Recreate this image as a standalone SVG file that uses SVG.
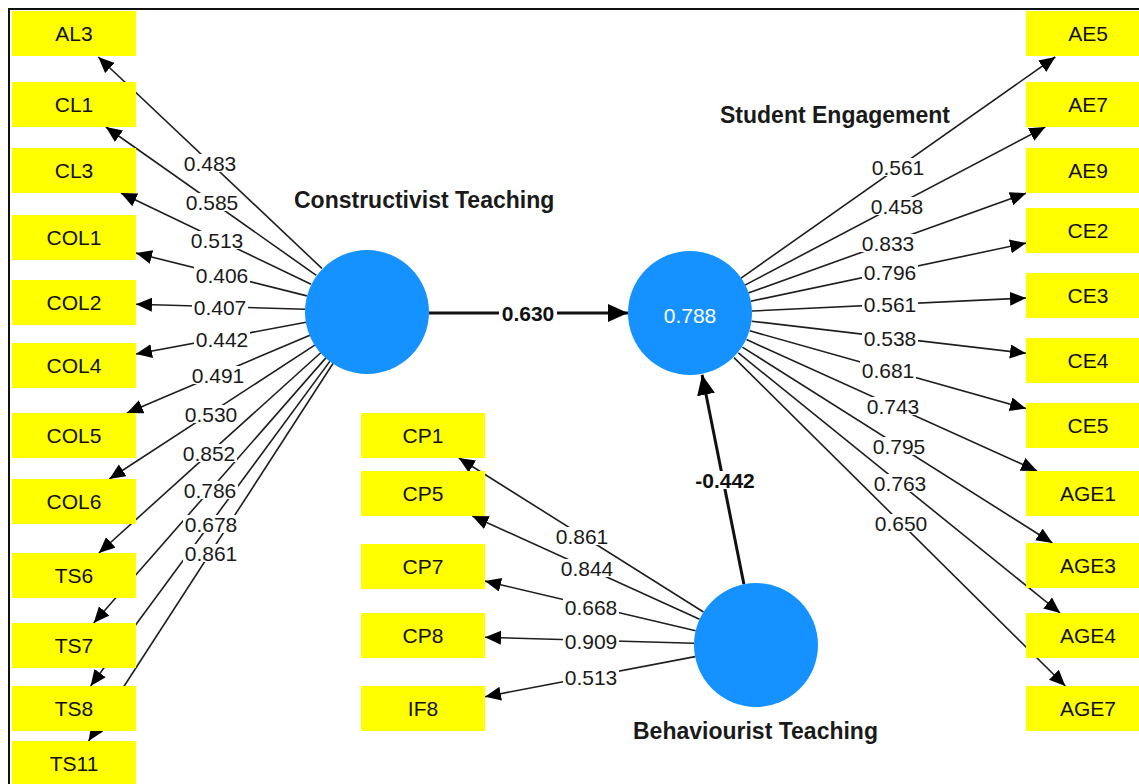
<svg xmlns="http://www.w3.org/2000/svg" width="1139" height="784" viewBox="0 0 1139 784">
<style>
.bg{fill:#ffffff}
.frame{stroke:#111;stroke-width:2;fill:none}
.ind{fill:#ffff00}
.it{font-family:"Liberation Sans",Arial,sans-serif;font-size:21px;fill:#111;text-anchor:middle}
.lv{fill:#1592ff}
.lt{font-family:"Liberation Sans",Arial,sans-serif;font-size:23px;font-weight:bold;fill:#1a1a1a}
.r2{font-family:"Liberation Sans",Arial,sans-serif;font-size:21px;fill:#ffffff;text-anchor:middle}
.ln{stroke:#1e1e1e;stroke-width:1.6;fill:none;marker-end:url(#ah)}
.pl{stroke:#111;stroke-width:3;fill:none;marker-end:url(#ahb)}
.lb{fill:#ffffff}
.nt{font-family:"Liberation Sans",Arial,sans-serif;font-size:21px;fill:#1a1a1a;text-anchor:middle}
.bt{font-family:"Liberation Sans",Arial,sans-serif;font-size:21px;font-weight:bold;fill:#111;text-anchor:middle}
</style>
<defs>
<marker id="ah" markerUnits="userSpaceOnUse" markerWidth="18" markerHeight="16" refX="16" refY="7" orient="auto">
<path d="M0,0 L16,7 L0,14 z" fill="#000"/>
</marker>
<marker id="ahb" markerUnits="userSpaceOnUse" markerWidth="22" markerHeight="20" refX="20" refY="9" orient="auto">
<path d="M0,0 L20,9 L0,18 z" fill="#000"/>
</marker>
</defs>
<rect class="bg" x="0" y="0" width="1139" height="784"/>
<path class="frame" d="M9,784 L9,9 L1139,9"/>

<g id="connectors">
<line class="ln" x1="321.9" y1="268.4" x2="98.3" y2="57"/>
<line class="ln" x1="316.3" y1="275.3" x2="105.9" y2="127"/>
<line class="ln" x1="311.1" y1="284.2" x2="120.9" y2="193"/>
<line class="ln" x1="306.9" y1="295.9" x2="136" y2="253.1"/>
<line class="ln" x1="305" y1="309.2" x2="136" y2="304.3"/>
<line class="ln" x1="306" y1="322.3" x2="136" y2="354"/>
<line class="ln" x1="309.9" y1="335.2" x2="126.9" y2="413"/>
<line class="ln" x1="315.1" y1="344.9" x2="109.3" y2="479"/>
<line class="ln" x1="321" y1="352.5" x2="98.9" y2="553"/>
<line class="ln" x1="326.1" y1="357.6" x2="93.7" y2="623"/>
<line class="ln" x1="330.2" y1="360.9" x2="90.6" y2="686"/>
<line class="ln" x1="333.3" y1="363" x2="88.6" y2="741"/>

<line class="ln" x1="740.7" y1="278.3" x2="1055.3" y2="57"/>
<line class="ln" x1="744.9" y1="285.1" x2="1045.3" y2="127"/>
<line class="ln" x1="748.3" y1="293" x2="1026" y2="193.3"/>
<line class="ln" x1="750.7" y1="301.2" x2="1026" y2="243.1"/>
<line class="ln" x1="751.9" y1="311" x2="1026" y2="298"/>
<line class="ln" x1="751.6" y1="321.2" x2="1026" y2="353.3"/>
<line class="ln" x1="749.7" y1="330.8" x2="1026" y2="408.6"/>
<line class="ln" x1="746.5" y1="339.6" x2="1037.1" y2="471"/>
<line class="ln" x1="742.4" y1="347.1" x2="1052.4" y2="543"/>
<line class="ln" x1="738.3" y1="352.9" x2="1060.1" y2="613"/>
<line class="ln" x1="734" y1="357.6" x2="1065.3" y2="686"/>

<line class="ln" x1="703.5" y1="612" x2="458.8" y2="458"/>
<line class="ln" x1="699.6" y1="619.3" x2="472.3" y2="516"/>
<line class="ln" x1="695.6" y1="630.8" x2="485" y2="581.1"/>
<line class="ln" x1="694" y1="643.2" x2="485" y2="637.3"/>
<line class="ln" x1="695.1" y1="656.6" x2="485" y2="696.7"/>

<line class="pl" x1="429" y1="313" x2="628" y2="313"/>
<line class="pl" x1="743.9" y1="584.2" x2="702.1" y2="374.8"/>

<g id="loading-labels">
<rect class="lb" x="182" y="154" width="56" height="18"/><text class="nt" x="210" y="170.5">0.483</text>
<rect class="lb" x="184" y="193" width="56" height="18"/><text class="nt" x="212" y="209.5">0.585</text>
<rect class="lb" x="189" y="231" width="56" height="18"/><text class="nt" x="217" y="247.5">0.513</text>
<rect class="lb" x="194" y="266" width="56" height="18"/><text class="nt" x="222" y="282.5">0.406</text>
<rect class="lb" x="192" y="298" width="56" height="18"/><text class="nt" x="220" y="314.5">0.407</text>
<rect class="lb" x="194" y="330" width="56" height="18"/><text class="nt" x="222" y="346.5">0.442</text>
<rect class="lb" x="190" y="366" width="56" height="18"/><text class="nt" x="218" y="382.5">0.491</text>
<rect class="lb" x="183" y="405" width="56" height="18"/><text class="nt" x="211" y="421.5">0.530</text>
<rect class="lb" x="181" y="444" width="56" height="18"/><text class="nt" x="209" y="460.5">0.852</text>
<rect class="lb" x="182" y="481" width="56" height="18"/><text class="nt" x="210" y="497.5">0.786</text>
<rect class="lb" x="183" y="515" width="56" height="18"/><text class="nt" x="211" y="531.5">0.678</text>
<rect class="lb" x="183" y="544" width="56" height="18"/><text class="nt" x="211" y="560.5">0.861</text>

<rect class="lb" x="870" y="158" width="56" height="18"/><text class="nt" x="898" y="174.5">0.561</text>
<rect class="lb" x="869" y="197" width="56" height="18"/><text class="nt" x="897" y="213.5">0.458</text>
<rect class="lb" x="860" y="234" width="56" height="18"/><text class="nt" x="888" y="250.5">0.833</text>
<rect class="lb" x="862" y="263" width="56" height="18"/><text class="nt" x="890" y="279.5">0.796</text>
<rect class="lb" x="862" y="295" width="56" height="18"/><text class="nt" x="890" y="311.5">0.561</text>
<rect class="lb" x="862" y="329" width="56" height="18"/><text class="nt" x="890" y="345.5">0.538</text>
<rect class="lb" x="860" y="361" width="56" height="18"/><text class="nt" x="888" y="377.5">0.681</text>
<rect class="lb" x="865" y="397" width="56" height="18"/><text class="nt" x="893" y="413.5">0.743</text>
<rect class="lb" x="871" y="437" width="56" height="18"/><text class="nt" x="899" y="453.5">0.795</text>
<rect class="lb" x="872" y="474" width="56" height="18"/><text class="nt" x="900" y="490.5">0.763</text>
<rect class="lb" x="873" y="514" width="56" height="18"/><text class="nt" x="901" y="530.5">0.650</text>

<rect class="lb" x="554" y="527" width="56" height="18"/><text class="nt" x="582" y="543.5">0.861</text>
<rect class="lb" x="559" y="559" width="56" height="18"/><text class="nt" x="587" y="575.5">0.844</text>
<rect class="lb" x="563" y="598" width="56" height="18"/><text class="nt" x="591" y="614.5">0.668</text>
<rect class="lb" x="563" y="632" width="56" height="18"/><text class="nt" x="591" y="648.5">0.909</text>
<rect class="lb" x="563" y="668" width="56" height="18"/><text class="nt" x="591" y="684.5">0.513</text>

<rect class="lb" x="499" y="304" width="58" height="18"/><text class="bt" x="528" y="320.5">0.630</text>
<rect class="lb" x="693" y="471" width="64" height="18"/><text class="bt" x="725" y="487.5">-0.442</text>
</g>
</g>

<g id="AL3"><rect class="ind" x="12" y="11" width="124" height="45"/><text class="it" x="74" y="41">AL3</text></g>
<g id="CL1"><rect class="ind" x="12" y="82" width="124" height="45"/><text class="it" x="74" y="112">CL1</text></g>
<g id="CL3"><rect class="ind" x="12" y="148" width="124" height="45"/><text class="it" x="74" y="178">CL3</text></g>
<g id="COL1"><rect class="ind" x="12" y="215" width="124" height="45"/><text class="it" x="74" y="245">COL1</text></g>
<g id="COL2"><rect class="ind" x="12" y="280" width="124" height="45"/><text class="it" x="74" y="310">COL2</text></g>
<g id="COL4"><rect class="ind" x="12" y="343" width="124" height="45"/><text class="it" x="74" y="373">COL4</text></g>
<g id="COL5"><rect class="ind" x="12" y="413" width="124" height="45"/><text class="it" x="74" y="443">COL5</text></g>
<g id="COL6"><rect class="ind" x="12" y="479" width="124" height="45"/><text class="it" x="74" y="509">COL6</text></g>
<g id="TS6"><rect class="ind" x="12" y="553" width="124" height="45"/><text class="it" x="74" y="583">TS6</text></g>
<g id="TS7"><rect class="ind" x="12" y="623" width="124" height="45"/><text class="it" x="74" y="653">TS7</text></g>
<g id="TS8"><rect class="ind" x="12" y="686" width="124" height="45"/><text class="it" x="74" y="716">TS8</text></g>
<g id="TS11"><rect class="ind" x="12" y="741" width="124" height="45"/><text class="it" x="74" y="771">TS11</text></g>

<g id="AE5"><rect class="ind" x="1026" y="11" width="124" height="45"/><text class="it" x="1088" y="41">AE5</text></g>
<g id="AE7"><rect class="ind" x="1026" y="82" width="124" height="45"/><text class="it" x="1088" y="112">AE7</text></g>
<g id="AE9"><rect class="ind" x="1026" y="148" width="124" height="45"/><text class="it" x="1088" y="178">AE9</text></g>
<g id="CE2"><rect class="ind" x="1026" y="208" width="124" height="45"/><text class="it" x="1088" y="238">CE2</text></g>
<g id="CE3"><rect class="ind" x="1026" y="273" width="124" height="45"/><text class="it" x="1088" y="303">CE3</text></g>
<g id="CE4"><rect class="ind" x="1026" y="338" width="124" height="45"/><text class="it" x="1088" y="368">CE4</text></g>
<g id="CE5"><rect class="ind" x="1026" y="403" width="124" height="45"/><text class="it" x="1088" y="433">CE5</text></g>
<g id="AGE1"><rect class="ind" x="1026" y="471" width="124" height="45"/><text class="it" x="1088" y="501">AGE1</text></g>
<g id="AGE3"><rect class="ind" x="1026" y="543" width="124" height="45"/><text class="it" x="1088" y="573">AGE3</text></g>
<g id="AGE4"><rect class="ind" x="1026" y="613" width="124" height="45"/><text class="it" x="1088" y="643">AGE4</text></g>
<g id="AGE7"><rect class="ind" x="1026" y="686" width="124" height="45"/><text class="it" x="1088" y="716">AGE7</text></g>

<g id="CP1"><rect class="ind" x="361" y="413" width="124" height="45"/><text class="it" x="423" y="443">CP1</text></g>
<g id="CP5"><rect class="ind" x="361" y="471" width="124" height="45"/><text class="it" x="423" y="501">CP5</text></g>
<g id="CP7"><rect class="ind" x="361" y="544" width="124" height="45"/><text class="it" x="423" y="574">CP7</text></g>
<g id="CP8"><rect class="ind" x="361" y="613" width="124" height="45"/><text class="it" x="423" y="643">CP8</text></g>
<g id="IF8"><rect class="ind" x="361" y="686" width="124" height="45"/><text class="it" x="423" y="716">IF8</text></g>

<g id="constructivist-teaching"><circle class="lv" cx="367" cy="312" r="62"/><text class="lt" x="294" y="208">Constructivist Teaching</text></g>
<g id="student-engagement"><circle class="lv" cx="690" cy="313" r="62"/><text class="r2" x="690" y="323">0.788</text><text class="lt" x="720" y="123">Student Engagement</text></g>
<g id="behaviourist-teaching"><circle class="lv" cx="756" cy="645" r="62"/><text class="lt" x="633" y="739">Behaviourist Teaching</text></g>
</svg>
